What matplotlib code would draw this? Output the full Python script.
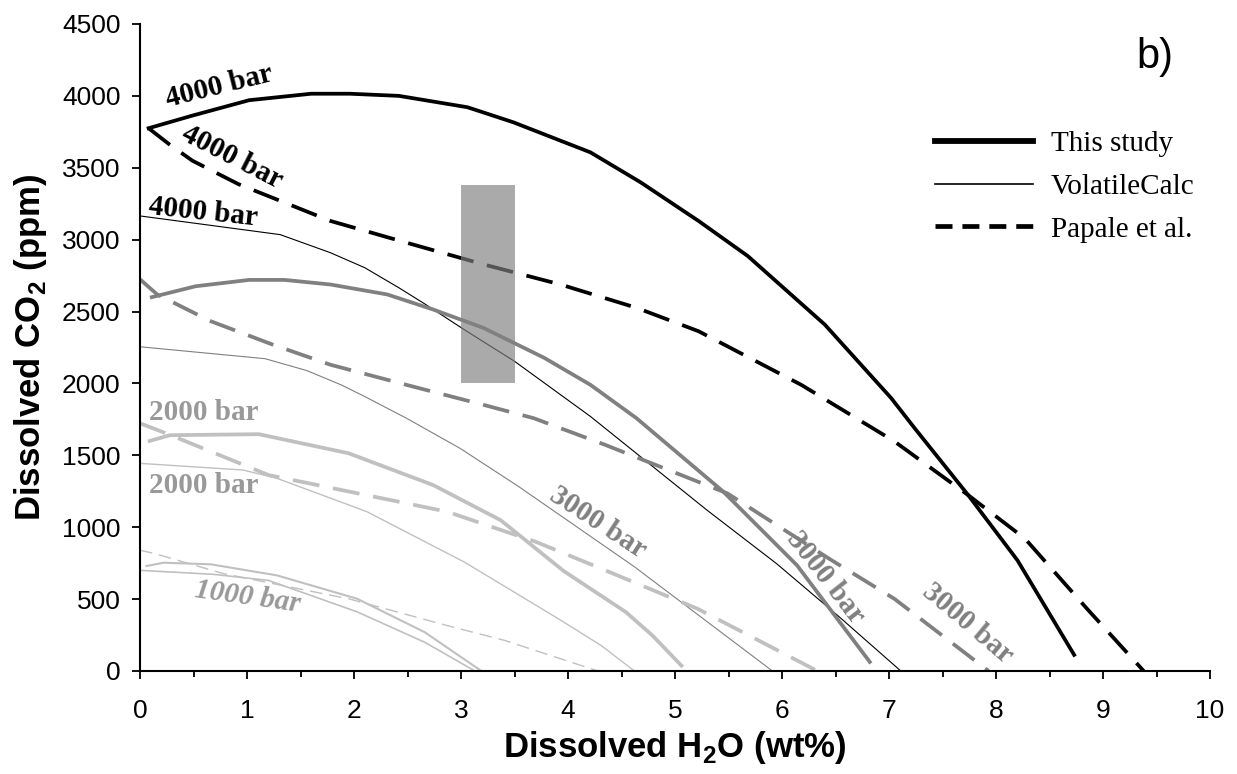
import matplotlib
matplotlib.use("Agg")
import matplotlib.pyplot as plt
from matplotlib.lines import Line2D
from matplotlib.patches import Rectangle

# ---- data (H2O wt%, CO2 ppm) ----
# 4000 bar
h2o_ts4000 = [0.08, 0.49, 1.02, 1.60, 1.96, 2.42, 3.06, 3.49, 4.21, 4.68, 5.22, 5.68, 6.40, 7.02, 7.24, 7.74, 8.20, 8.73]
co2_ts4000 = [3775, 3863, 3970, 4015, 4015, 4000, 3921, 3816, 3607, 3398, 3130, 2886, 2409, 1898, 1688, 1223, 770, 112]
h2o_pp4000 = [0.08, 0.27, 0.49, 0.92, 1.31, 1.78, 2.49, 3.21, 3.93, 4.64, 5.22, 6.18, 7.05, 7.74, 8.27, 8.85, 9.38]
co2_pp4000 = [3775, 3665, 3549, 3386, 3270, 3130, 2979, 2828, 2688, 2526, 2363, 1990, 1597, 1223, 921, 433, 0]
h2o_vc4000 = [0.0, 1.31, 1.78, 2.10, 2.42, 2.67, 3.03, 3.50, 4.21, 5.30, 5.95, 6.52, 7.11]
co2_vc4000 = [3165, 3035, 2909, 2805, 2665, 2549, 2374, 2154, 1770, 1118, 746, 386, 0]
# 3000 bar
h2o_ts3000 = [0.11, 0.52, 1.02, 1.35, 1.78, 2.31, 2.74, 3.21, 3.78, 4.21, 4.64, 5.45, 6.14, 6.82]
co2_ts3000 = [2600, 2676, 2720, 2720, 2688, 2619, 2514, 2386, 2177, 1990, 1758, 1248, 735, 63]
h2o_pp3000 = [0.0, 0.16, 0.66, 1.24, 1.78, 2.49, 3.21, 3.68, 4.35, 5.49, 6.44, 7.05, 7.93]
co2_pp3000 = [2724, 2619, 2433, 2270, 2130, 1990, 1851, 1758, 1572, 1235, 781, 502, 0]
h2o_vc3000 = [0.0, 1.17, 1.56, 1.88, 2.10, 2.49, 2.99, 3.54, 4.62, 5.91]
co2_vc3000 = [2255, 2172, 2089, 1990, 1909, 1758, 1549, 1282, 725, 0]
# 2000 bar
h2o_ts2000 = [0.09, 0.28, 1.11, 1.95, 2.74, 3.37, 3.96, 4.54, 4.79, 5.06]
co2_ts2000 = [1600, 1640, 1647, 1514, 1293, 1049, 695, 410, 246, 37]
h2o_pp2000 = [0.0, 0.28, 1.20, 2.87, 3.70, 4.31, 5.21, 6.33]
co2_pp2000 = [1723, 1642, 1363, 1108, 898, 712, 433, 0]
h2o_vc2000 = [0.0, 0.96, 1.28, 2.12, 3.03, 3.91, 4.31, 4.62]
co2_vc2000 = [1444, 1398, 1340, 1108, 758, 363, 177, 0]
# 1000 bar
h2o_ts1000 = [0.06, 0.22, 0.66, 1.28, 2.03, 2.66, 3.19]
co2_ts1000 = [730, 753, 742, 665, 502, 270, 0]
h2o_vc1000 = [0.0, 0.69, 1.20, 2.03, 2.66, 3.13]
co2_vc1000 = [700, 672, 630, 411, 200, 0]
h2o_pp1000 = [0.0, 0.14, 0.78, 1.95, 2.87, 3.41, 4.28]
co2_pp1000 = [840, 816, 677, 502, 316, 212, 0]

# grey box (H2O range, CO2 range)
box_h2o = [3.0, 3.5]
box_co2 = [2000, 3380]

legend_labels = ["This study", "VolatileCalc", "Papale et al."]

plt.rcParams['font.family'] = ['Liberation Sans', 'DejaVu Sans']
plt.rcParams['mathtext.fontset'] = 'custom'
plt.rcParams['mathtext.rm'] = 'Liberation Sans'
plt.rcParams['mathtext.bf'] = 'Liberation Sans:bold'

BLACK = '#000000'
MID = '#808080'
LIGHT = '#c0c0c0'
LBL_LIGHT = '#999999'
SERIF = 'Liberation Serif'


def main():
    fig = plt.figure(figsize=(12.37, 7.74), dpi=100)
    ax = fig.add_axes([0.1132, 0.1331, 0.8650, 0.8359])

    thick, thin = 2.7, 0.8
    dash_long = (7.2, 3.7)

    # 4000 bar
    ax.plot(h2o_ts4000, co2_ts4000, color=BLACK, lw=thick)
    ax.plot(h2o_pp4000, co2_pp4000, color=BLACK, lw=thick, dashes=dash_long)
    ax.plot(h2o_vc4000, co2_vc4000, color=BLACK, lw=thin)
    # 3000 bar
    ax.plot(h2o_ts3000, co2_ts3000, color=MID, lw=thick)
    ax.plot(h2o_pp3000, co2_pp3000, color=MID, lw=thick, dashes=dash_long)
    ax.plot(h2o_vc3000, co2_vc3000, color=MID, lw=thin)
    # 2000 bar
    ax.plot(h2o_ts2000, co2_ts2000, color=LIGHT, lw=thick)
    ax.plot(h2o_pp2000, co2_pp2000, color=LIGHT, lw=thick, dashes=dash_long)
    ax.plot(h2o_vc2000, co2_vc2000, color=LIGHT, lw=thin + 0.2)
    # 1000 bar
    ax.plot(h2o_ts1000, co2_ts1000, color=LIGHT, lw=1.5)
    ax.plot(h2o_vc1000, co2_vc1000, color=LIGHT, lw=1.2)
    ax.plot(h2o_pp1000, co2_pp1000, color=LIGHT, lw=1.0, dashes=(9, 5))

    ax.add_patch(Rectangle((box_h2o[0], box_co2[0]), box_h2o[1] - box_h2o[0],
                           box_co2[1] - box_co2[0], facecolor=MID, alpha=0.667,
                           edgecolor='none', zorder=5))

    # curve labels
    tkw = dict(family=SERIF, fontweight='bold', fontsize=21, ha='center', va='center')
    ax.text(0.74, 4067, "4000 bar", color=BLACK, rotation=14, **tkw)
    ax.text(0.86, 3572, "4000 bar", color=BLACK, rotation=-27, **tkw)
    ax.text(0.59, 3189, "4000 bar", color=BLACK, rotation=-6, **tkw)
    ax.text(0.60, 1800, "2000 bar", color=LBL_LIGHT, rotation=0, **tkw)
    ax.text(0.60, 1287, "2000 bar", color=LBL_LIGHT, rotation=0, **tkw)
    ax.text(1.01, 515, "1000 bar", color=LBL_LIGHT, rotation=-8, style='italic', **tkw)
    ax.text(4.28, 1036, "3000 bar", color=MID, rotation=-33, **tkw)
    ax.text(6.41, 647, "3000 bar", color=MID, rotation=-52, **tkw)
    ax.text(7.74, 334, "3000 bar", color=MID, rotation=-40, **tkw)

    ax.text(9.48, 4270, "b)", fontsize=30, ha='center', va='center')

    handles = [Line2D([], [], color=BLACK, lw=4.2),
               Line2D([], [], color=BLACK, lw=1.2),
               Line2D([], [], color=BLACK, lw=3.4, dashes=(3.6, 2.1))]
    ax.legend(handles, legend_labels, loc='upper left', bbox_to_anchor=(0.7425, 0.835),
              frameon=False, prop={'family': SERIF, 'size': 21}, handlelength=3.36,
              handletextpad=0.62, labelspacing=0.56, borderpad=0, borderaxespad=0)

    ax.set_xlim(0, 10)
    ax.set_ylim(0, 4500)
    ax.set_xticks(range(0, 11))
    ax.set_xticks([i + 0.5 for i in range(10)], minor=True)
    ax.set_yticks(range(0, 4501, 500))

    for s in ['top', 'right']:
        ax.spines[s].set_visible(False)
    for s in ['left', 'bottom']:
        ax.spines[s].set_linewidth(1.5)
    ax.tick_params(axis='both', which='major', direction='out', length=6, width=1.3,
                   labelsize=19, pad=8)
    ax.tick_params(axis='x', which='major', pad=14)
    ax.tick_params(axis='x', which='minor', direction='out', length=4.5, width=1.3)

    ax.set_xlabel(r"Dissolved H$_\mathbf{2}$O (wt%)", fontsize=25, fontweight='bold')
    ax.set_ylabel(r"Dissolved CO$_\mathbf{2}$ (ppm)", fontsize=25, fontweight='bold')
    ax.xaxis.set_label_coords(0.5, -0.09)
    ax.yaxis.set_label_coords(-0.085, 0.5)

    fig.savefig("out.png", dpi=100)


if __name__ == '__main__':
    main()
